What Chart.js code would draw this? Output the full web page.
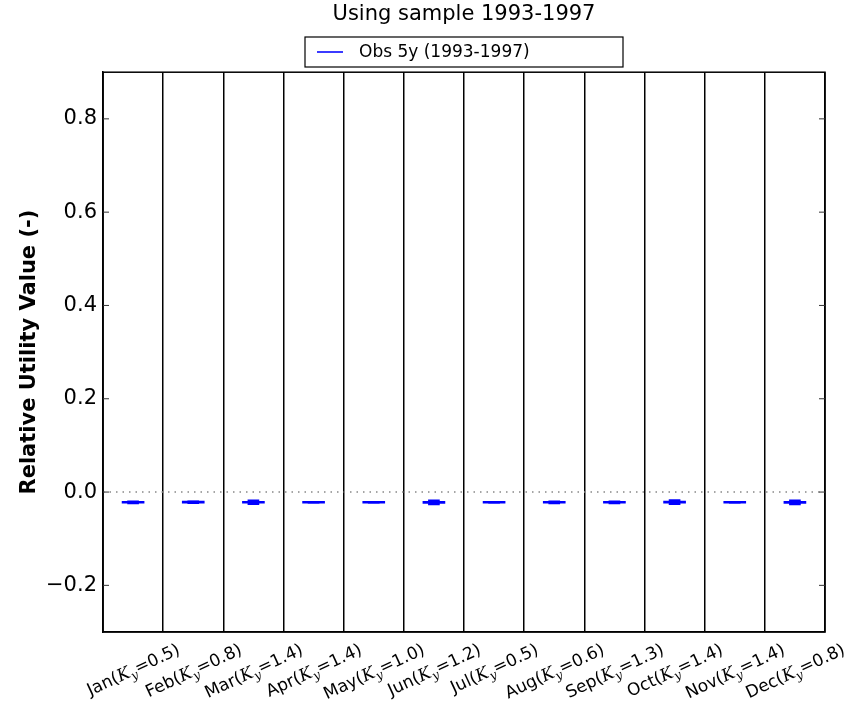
<!DOCTYPE html>
<html>
<head>
<meta charset="utf-8">
<script src="https://cdn.jsdelivr.net/npm/chart.js@4.4.0/dist/chart.umd.min.js"></script>
<style>
  html, body { margin: 0; padding: 0; background: #fff; }
</style>
</head>
<body>
<canvas id="boxChart" width="848" height="705"></canvas>
<script>
// data
const months = ['Jan', 'Feb', 'Mar', 'Apr', 'May', 'Jun', 'Jul', 'Aug', 'Sep', 'Oct', 'Nov', 'Dec'];
const kY = ['0.5', '0.8', '1.4', '1.4', '1.0', '1.2', '0.5', '0.6', '1.3', '1.4', '1.4', '0.8'];
const q1 = [-0.0240, -0.0238, -0.0240, -0.0238, -0.0239, -0.0242, -0.0238, -0.0239, -0.0240, -0.0238, -0.0238, -0.0242];
const q3 = [-0.0198, -0.0196, -0.0198, -0.0198, -0.0199, -0.0200, -0.0197, -0.0197, -0.0198, -0.0196, -0.0198, -0.0200];
const whiskLow = [-0.0252, -0.0250, -0.0272, -0.0238, -0.0239, -0.0275, -0.0238, -0.0253, -0.0254, -0.0270, -0.0238, -0.0276];
const whiskHigh = [-0.0188, -0.0186, -0.0166, -0.0198, -0.0199, -0.0168, -0.0197, -0.0186, -0.0187, -0.0162, -0.0198, -0.0168];
const yTicks = [-0.2, 0.0, 0.2, 0.4, 0.6, 0.8];
const seriesLabel = 'Obs 5y (1993-1997)';
const titleText = 'Using sample 1993-1997';

const FONT = "'DejaVu Sans', sans-serif";

// extra drawing: zero line, frame, inward ticks, legend box, math x labels
const extras = {
    id: 'extras',
    beforeDatasetsDraw(chart) {
        const { ctx, chartArea, scales } = chart;
        const y0 = scales.y.getPixelForValue(0);
        ctx.save();
        ctx.strokeStyle = '#888';
        ctx.lineWidth = 1.5;
        ctx.setLineDash([1.5, 5]);
        ctx.beginPath();
        ctx.moveTo(chartArea.left, y0);
        ctx.lineTo(chartArea.right, y0);
        ctx.stroke();
        ctx.restore();
    },
    afterDraw(chart) {
        const { ctx, chartArea, scales } = chart;
        ctx.save();
        // frame
        ctx.strokeStyle = '#000';
        ctx.lineWidth = 1.5;
        ctx.strokeRect(chartArea.left, chartArea.top, chartArea.right - chartArea.left, chartArea.bottom - chartArea.top);

        // inward y ticks on both sides
        ctx.lineWidth = 1;
        ctx.strokeStyle = '#333';
        scales.y.ticks.forEach(t => {
            const y = scales.y.getPixelForValue(t.value);
            ctx.beginPath();
            ctx.moveTo(chartArea.left, y);
            ctx.lineTo(chartArea.left + 6, y);
            ctx.moveTo(chartArea.right - 6, y);
            ctx.lineTo(chartArea.right, y);
            ctx.stroke();
        });

        // legend
        const cx = (chartArea.left + chartArea.right) / 2;
        const ly = 52;
        ctx.strokeStyle = '#000';
        ctx.lineWidth = 1.2;
        ctx.strokeRect(cx - 159, ly - 15, 318, 30);
        ctx.strokeStyle = '#3b3bff';
        ctx.lineWidth = 2;
        ctx.beginPath();
        ctx.moveTo(cx - 147, ly);
        ctx.lineTo(cx - 121, ly);
        ctx.stroke();
        ctx.fillStyle = '#000';
        ctx.font = '17px ' + FONT;
        ctx.textBaseline = 'middle';
        ctx.textAlign = 'left';
        ctx.fillText(seriesLabel, cx - 105, ly + 1);

        // rotated x labels like Jan(K_y=0.5)
        const ang = -25 * Math.PI / 180;
        const fs = 17;
        months.forEach((m, i) => {
            const parts = [
                { t: m + '(', f: fs + 'px ' + FONT, dy: 0 },
                { t: 'K', f: 'italic ' + fs + 'px "DejaVu Serif"', dy: 0 },
                { t: 'y', f: 'italic ' + Math.round(fs * 0.7) + 'px "DejaVu Serif"', dy: 4 },
                { t: '=' + kY[i] + ')', f: fs + 'px ' + FONT, dy: 0 }
            ];
            let total = 0;
            parts.forEach(p => { ctx.font = p.f; p.w = ctx.measureText(p.t).width; total += p.w; });
            const h = fs * 1.15;
            const boxH = total * Math.sin(-ang) + h * Math.cos(ang);
            const x = scales.x.getPixelForValue(i);
            const y = chartArea.bottom + 7 + boxH / 2;
            ctx.save();
            ctx.translate(x, y);
            ctx.rotate(ang);
            ctx.textBaseline = 'alphabetic';
            ctx.fillStyle = '#000';
            let px = -total / 2;
            parts.forEach(p => {
                ctx.font = p.f;
                ctx.fillText(p.t, px, fs * 0.36 + p.dy);
                px += p.w;
            });
            ctx.restore();
        });
        ctx.restore();
    }
};

const ctx = document.getElementById('boxChart');

const data = {
    labels: months,
    datasets: [
        {
            label: seriesLabel,
            data: months.map((m, i) => [q1[i], q3[i]]),
            backgroundColor: '#0000ff',
            borderWidth: 0,
            barThickness: 22,
            grouped: false,
        },
        {
            label: 'whiskers',
            data: months.map((m, i) => [whiskLow[i], whiskHigh[i]]),
            backgroundColor: '#0000ff',
            borderWidth: 0,
            barThickness: 11,
            grouped: false,
        },
    ],
};

const myChart = new Chart(ctx, {
    type: 'bar',
    data: data,
    plugins: [extras],
    options: {
        responsive: false,
        animation: false,
        layout: { padding: { left: 0, right: 23, top: 0, bottom: 0 } },
        plugins: {
            legend: { display: false },
            tooltip: { enabled: false },
            title: {
                display: true,
                text: titleText,
                fullSize: false,
                color: '#000',
                font: { family: FONT, size: 21, weight: 'normal', lineHeight: 1.2 },
                padding: { top: 2, bottom: 45 },
            },
        },
        scales: {
            x: {
                type: 'category',
                offset: true,
                grid: { offset: true, color: '#000', lineWidth: 1.5, drawTicks: false },
                border: { color: '#000', width: 1.5 },
                ticks: { display: false },
                afterFit: s => { s.height = 73; },
            },
            y: {
                min: -0.3,
                max: 0.9,
                afterBuildTicks: s => { s.ticks = yTicks.map(v => ({ value: v })); },
                grid: { display: false, drawTicks: false },
                border: { color: '#000', width: 1.5 },
                ticks: {
                    color: '#000',
                    padding: 6,
                    font: { family: FONT, size: 21 },
                    callback: v => (v < 0 ? '\u2212' + Math.abs(v).toFixed(1) : v.toFixed(1)),
                },
                title: {
                    display: true,
                    text: 'Relative Utility Value (-)',
                    color: '#000',
                    font: { family: FONT, size: 21, weight: 'bold', lineHeight: 1.2 },
                    padding: { top: 17, bottom: 0 },
                },
                afterFit: s => { s.width = 103; },
            },
        },
    },
});
</script>
</body>
</html>
